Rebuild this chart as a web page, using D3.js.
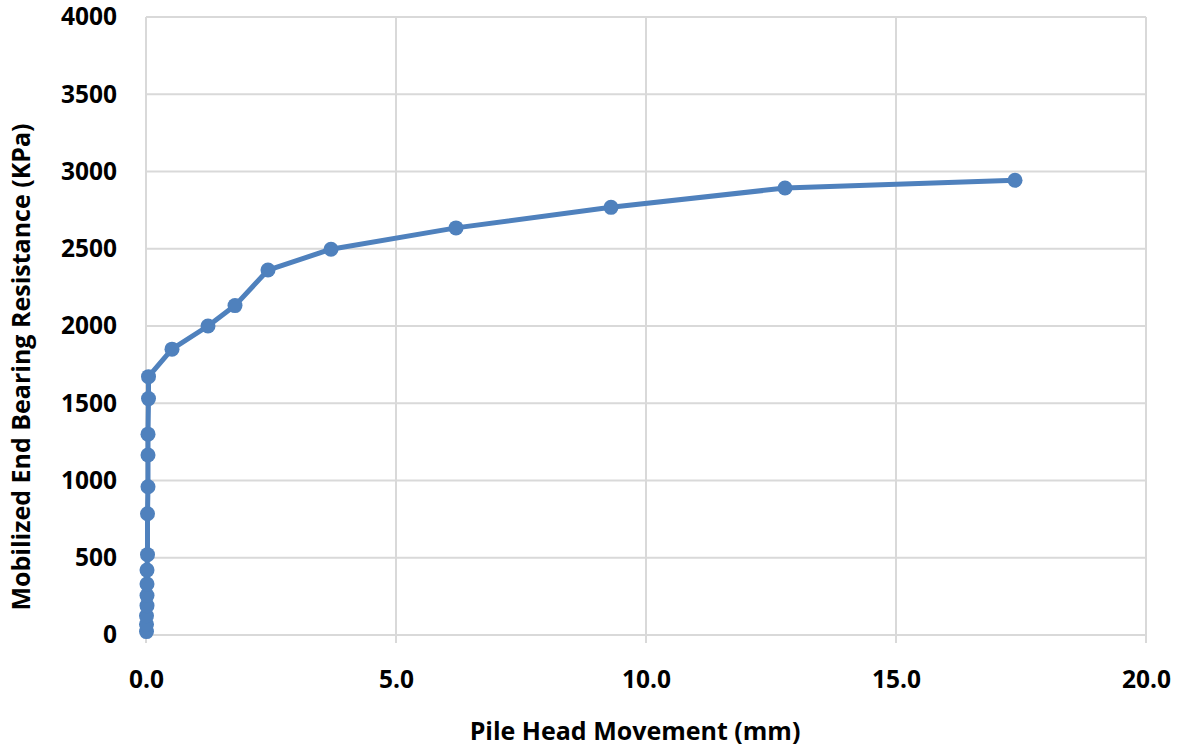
<!DOCTYPE html>
<html>
<head>
<meta charset="utf-8">
<script src="https://cdn.jsdelivr.net/npm/d3@7"></script>
<style>
  html, body { margin: 0; padding: 0; background: #fff; }
  svg { display: block; }
  text { font-family: "Open Sans", "DejaVu Sans", sans-serif; font-weight: 700; fill: #000; }
</style>
</head>
<body>
<svg id="chart" width="1185" height="750"></svg>
<script>
// Pile load test: head movement (mm) vs mobilized end bearing resistance (kPa)
const movement = [0.01, 0.01, 0.01, 0.02, 0.02, 0.02, 0.02, 0.03, 0.03, 0.04, 0.04, 0.04, 0.05, 0.05,
                  0.52, 1.24, 1.78, 2.44, 3.70, 6.20, 9.30, 12.78, 17.38];
const resistance = [22, 70, 125, 190, 255, 330, 420, 520, 785, 960, 1165, 1300, 1530, 1672,
                    1850, 2000, 2132, 2362, 2497, 2635, 2768, 2893, 2943];
const xTicks = [0, 5, 10, 15, 20];
const yTicks = [0, 500, 1000, 1500, 2000, 2500, 3000, 3500, 4000];
const xTitle = "Pile Head Movement (mm)";
const yTitle = "Mobilized End Bearing Resistance (KPa)";

const svg = d3.select("#chart");
const m = { left: 146, right: 1146, top: 17, bottom: 635 };

const x = d3.scaleLinear().domain([0, 20]).range([m.left, m.right]);
const y = d3.scaleLinear().domain([0, 4000]).range([m.bottom, m.top]);

const gridColor = "#d9d9d9";

// Gridlines
svg.append("g").selectAll("line").data(yTicks).join("line")
  .attr("x1", m.left).attr("x2", m.right)
  .attr("y1", d => y(d)).attr("y2", d => y(d))
  .attr("stroke", gridColor).attr("stroke-width", 2);
svg.append("g").selectAll("line").data(xTicks).join("line")
  .attr("x1", d => x(d)).attr("x2", d => x(d))
  .attr("y1", m.top).attr("y2", m.bottom + 8)
  .attr("stroke", gridColor).attr("stroke-width", 2);

// Axes (labels only; lines come from the grid)
const xAxis = d3.axisBottom(x).tickValues(xTicks).tickFormat(d3.format(".1f")).tickSize(0).tickPadding(36);
const gx = svg.append("g").attr("transform", `translate(0,${m.bottom})`).call(xAxis);
gx.select(".domain").remove();
gx.selectAll("text").attr("font-size", 24.5);

const yAxis = d3.axisLeft(y).tickValues(yTicks).tickFormat(d3.format("d")).tickSize(0).tickPadding(29);
const gy = svg.append("g").attr("transform", `translate(${m.left},0)`).call(yAxis);
gy.select(".domain").remove();
gy.selectAll("text").attr("font-size", 24.5);
[gx, gy].forEach(g => g.attr("font-family", null).attr("font-size", null));

// Axis titles
svg.append("text")
  .attr("x", 635).attr("y", 733)
  .attr("text-anchor", "middle").attr("dominant-baseline", "middle")
  .attr("font-size", 25).text(xTitle);
svg.append("text")
  .attr("transform", `translate(23,367) rotate(-90)`)
  .attr("text-anchor", "middle").attr("dominant-baseline", "middle")
  .attr("font-size", 25).text(yTitle);

// Series
const pts = movement.map((v, i) => [v, resistance[i]]);
const color = "#4f81bd";
svg.append("path")
  .datum(pts)
  .attr("fill", "none").attr("stroke", color).attr("stroke-width", 5)
  .attr("stroke-linejoin", "round")
  .attr("d", d3.line().x(d => x(d[0])).y(d => y(d[1])));
svg.append("g").selectAll("circle").data(pts).join("circle")
  .attr("cx", d => x(d[0])).attr("cy", d => y(d[1])).attr("r", 7.5)
  .attr("fill", color);
</script>
</body>
</html>
